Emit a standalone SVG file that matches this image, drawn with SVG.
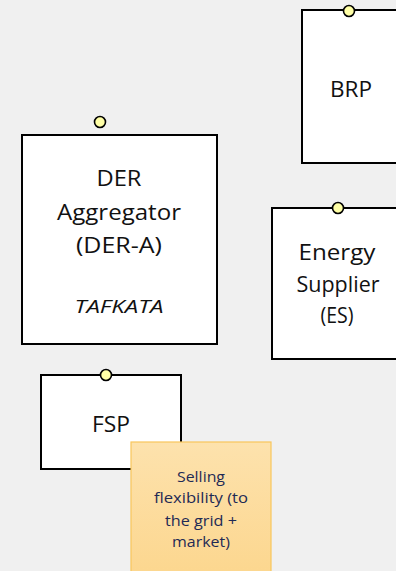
<svg xmlns="http://www.w3.org/2000/svg" width="396" height="571" viewBox="0 0 396 571">
<defs>
<linearGradient id="noteGrad" x1="0" y1="0" x2="0" y2="1">
<stop offset="0" stop-color="#fde2ad"/>
<stop offset="1" stop-color="#fcd68d"/>
</linearGradient>
<style>
.box{fill:#ffffff;stroke:#000000;stroke-width:2}
.port{fill:#ffffa6;stroke:#000000;stroke-width:1.6}
.lbl{font-family:"Open Sans","Liberation Sans",sans-serif;font-size:21px;fill:#111111;text-anchor:middle}
.it{font-style:italic;font-size:18px}
.note{fill:url(#noteGrad);stroke:#f8c65c;stroke-width:1.2}
.ntxt{font-family:"Open Sans","Liberation Sans",sans-serif;font-size:15px;fill:#1f2a55;text-anchor:middle}
</style>
</defs>
<rect width="396" height="571" fill="#f0f0f0"/>
<g id="connectors"></g>
<g id="brp">
<rect class="box" x="302" y="10" width="110" height="153"/>
<circle class="port" cx="349" cy="11" r="5.5"/>
<text class="lbl" x="351" y="97" textLength="42" lengthAdjust="spacingAndGlyphs">BRP</text>
</g>
<g id="der-a">
<rect class="box" x="22" y="135" width="195" height="209"/>
<circle class="port" cx="100" cy="122" r="5.5"/>
<text class="lbl" x="119" y="186" textLength="45" lengthAdjust="spacingAndGlyphs">DER</text>
<text class="lbl" x="119" y="220" textLength="124" lengthAdjust="spacingAndGlyphs">Aggregator</text>
<text class="lbl" x="119" y="253" textLength="86" lengthAdjust="spacingAndGlyphs">(DER-A)</text>
<text class="lbl it" x="119" y="313" textLength="89" lengthAdjust="spacingAndGlyphs">TAFKATA</text>
</g>
<g id="es">
<rect class="box" x="272" y="208" width="140" height="151"/>
<circle class="port" cx="338" cy="208" r="5.5"/>
<text class="lbl" x="337" y="260" textLength="77" lengthAdjust="spacingAndGlyphs">Energy</text>
<text class="lbl" x="338" y="292" textLength="83" lengthAdjust="spacingAndGlyphs">Supplier</text>
<text class="lbl" x="337" y="323" textLength="33" lengthAdjust="spacingAndGlyphs">(ES)</text>
</g>
<g id="fsp">
<rect class="box" x="41" y="375" width="140" height="94"/>
<circle class="port" cx="106" cy="375" r="5.5"/>
<text class="lbl" x="111" y="432" textLength="38" lengthAdjust="spacingAndGlyphs">FSP</text>
</g>
<g id="note">
<rect class="note" x="131" y="442" width="140" height="140"/>
<text class="ntxt" x="201" y="482" textLength="48" lengthAdjust="spacingAndGlyphs">Selling</text>
<text class="ntxt" x="201" y="503" textLength="94" lengthAdjust="spacingAndGlyphs">flexibility (to</text>
<text class="ntxt" x="201" y="526" textLength="72" lengthAdjust="spacingAndGlyphs">the grid +</text>
<text class="ntxt" x="201" y="547" textLength="58" lengthAdjust="spacingAndGlyphs">market)</text>
</g>
</svg>
